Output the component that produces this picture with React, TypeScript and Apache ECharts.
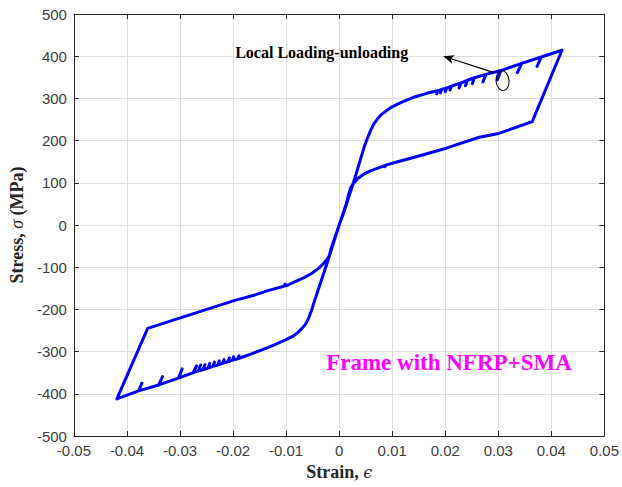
import React, { useEffect, useRef } from "react";
import * as echarts from "echarts";

// Axis setup
const xMin = -0.05;
const xMax = 0.05;
const xStep = 0.01;
const yMin = -500;
const yMax = 500;
const yStep = 100;

// Path pieces of the hysteresis curve: [strain, stress (MPa)]
const loadingPositive: [number, number][] = [
  [0, 0], [0.001, 34], [0.0028, 105], [0.0047, 184], [0.0053, 205], [0.0059, 223],
  [0.0065, 239], [0.0072, 251], [0.0079, 261], [0.0088, 270], [0.0097, 278],
  [0.0118, 291], [0.0139, 302], [0.0165, 312],
  [0.0186, 318], [0.0184, 311], [0.0186, 318],
  [0.0193, 321], [0.0191, 313], [0.0193, 321],
  [0.0203, 325], [0.0200, 316], [0.0203, 325],
  [0.0212, 329], [0.0209, 320], [0.0212, 329],
  [0.0230, 337], [0.0226, 325], [0.0230, 337],
  [0.0242, 343], [0.0238, 330], [0.0242, 343],
  [0.0255, 349], [0.0251, 335], [0.0255, 349],
  [0.0277, 357], [0.0271, 339], [0.0277, 357],
  [0.0305, 366], [0.0298, 344], [0.0305, 366],
  [0.0344, 383], [0.0336, 361], [0.0344, 383],
  [0.0381, 398], [0.0373, 376], [0.0381, 398],
  [0.0420, 414],
];

const unloadingPositive: [number, number][] = [
  [0.0364, 245], [0.0301, 217], [0.0264, 208], [0.0202, 182], [0.0140, 160],
  [0.0105, 148], [0.0088, 142], [0.0086, 138], [0.0088, 142], [0.0078, 137],
  [0.0060, 129], [0.0047, 121], [0.0035, 110], [0.0027, 98], [0.0022, 89],
  [0.0018, 74], [0.0014, 52], [0, 0],
];

const loadingNegative: [number, number][] = [
  [-0.0015, -55], [-0.002, -80], [-0.003, -118], [-0.004, -155], [-0.0046, -178],
  [-0.0052, -202], [-0.0058, -222], [-0.0064, -236], [-0.007, -245], [-0.0078, -255],
  [-0.0088, -264], [-0.0102, -273], [-0.013, -288], [-0.0164, -305],
  [-0.0191, -317], [-0.0189, -310], [-0.0191, -317],
  [-0.0201, -320], [-0.0199, -312], [-0.0201, -320],
  [-0.0210, -324], [-0.0207, -315], [-0.0210, -324],
  [-0.0220, -328], [-0.0217, -319], [-0.0220, -328],
  [-0.0229, -332], [-0.0226, -322], [-0.0229, -332],
  [-0.0238, -335], [-0.0235, -325], [-0.0238, -335],
  [-0.0247, -339], [-0.0244, -328], [-0.0247, -339],
  [-0.0257, -343], [-0.0253, -331], [-0.0257, -343],
  [-0.0266, -346], [-0.0261, -332], [-0.0266, -346],
  [-0.0275, -350], [-0.0269, -334], [-0.0275, -350],
  [-0.0303, -363], [-0.0296, -341], [-0.0303, -363],
  [-0.0340, -379], [-0.0333, -359], [-0.0340, -379],
  [-0.0378, -393], [-0.0372, -375], [-0.0378, -393],
  [-0.0419, -412],
];

const unloadingNegative: [number, number][] = [
  [-0.0361, -245], [-0.0257, -203], [-0.0195, -178], [-0.0162, -167], [-0.0133, -155],
  [-0.0104, -145], [-0.0102, -140], [-0.0100, -144], [-0.0084, -135], [-0.0065, -124],
  [-0.0052, -115], [-0.0040, -104], [-0.003, -92], [-0.0023, -82], [-0.0018, -72],
  [-0.001, -40], [0, 0],
];

// Annotation anchors (data coordinates)
const noteText = "Local Loading-unloading";
const noteTextPos: [number, number] = [-0.0033, 408];
const arrowFrom: [number, number] = [0.0292, 361];
const arrowTo: [number, number] = [0.0196, 400];
const ellipseCenter: [number, number] = [0.0308, 342];
const legendText = "Frame with NFRP+SMA";
const legendPos: [number, number] = [0.0207, -327];

const fmtX = (v: number) => String(Math.round(v * 100) / 100);

export default function App() {
  const ref = useRef<HTMLDivElement>(null);
  useEffect(() => {
    if (!ref.current) return;
    const chart = echarts.init(ref.current, undefined, { renderer: "svg" });
    const data = [
      ...loadingPositive,
      ...unloadingPositive,
      ...loadingNegative,
      ...unloadingNegative,
    ];
    const axisColor = "#262626";
    const labelColor = "#404040";
    chart.setOption({
      animation: false,
      backgroundColor: "#ffffff",
      grid: { left: 69, right: 16, top: 14, bottom: 51 },
      xAxis: [
        {
          type: "value",
          min: xMin,
          max: xMax,
          interval: xStep,
          position: "bottom",
          axisLine: { show: true, onZero: false, lineStyle: { color: axisColor, width: 1 } },
          axisTick: { show: true, inside: true, length: 5, lineStyle: { color: axisColor } },
          axisLabel: {
            formatter: fmtX,
            color: labelColor,
            fontSize: 15,
            fontFamily: "Liberation Sans, Arial, sans-serif",
            margin: 7,
          },
          splitLine: { show: true, lineStyle: { color: "#e0e0e0", width: 1 } },
          name: "{b|Strain, }{i|ϵ}",
          nameLocation: "middle",
          nameGap: 27,
          nameTextStyle: {
            rich: {
              b: { fontFamily: "Liberation Serif, Times New Roman, serif", fontWeight: "bold", fontSize: 18, color: "#262626" },
              i: { fontFamily: "DejaVu Serif, Liberation Serif, serif", fontStyle: "italic", fontSize: 16, color: "#262626" },
            },
          },
        },
        {
          type: "value",
          min: xMin,
          max: xMax,
          interval: xStep,
          position: "top",
          axisLine: { show: true, onZero: false, lineStyle: { color: axisColor, width: 1 } },
          axisTick: { show: true, inside: true, length: 5, lineStyle: { color: axisColor } },
          axisLabel: { show: false },
          splitLine: { show: false },
        },
      ],
      yAxis: [
        {
          type: "value",
          min: yMin,
          max: yMax,
          interval: yStep,
          position: "left",
          axisLine: { show: true, onZero: false, lineStyle: { color: axisColor, width: 1 } },
          axisTick: { show: true, inside: true, length: 5, lineStyle: { color: axisColor } },
          axisLabel: {
            color: labelColor,
            fontSize: 15,
            fontFamily: "Liberation Sans, Arial, sans-serif",
            margin: 7,
          },
          splitLine: { show: true, lineStyle: { color: "#e0e0e0", width: 1 } },
          name: "{b|Stress, }{i|σ}{b| (MPa)}",
          nameLocation: "middle",
          nameRotate: 90,
          nameGap: 42,
          nameTextStyle: {
            rich: {
              b: { fontFamily: "Liberation Serif, Times New Roman, serif", fontWeight: "bold", fontSize: 18, color: "#262626" },
              i: { fontFamily: "Liberation Serif, Times New Roman, serif", fontStyle: "italic", fontSize: 18, color: "#262626" },
            },
          },
        },
        {
          type: "value",
          min: yMin,
          max: yMax,
          interval: yStep,
          position: "right",
          axisLine: { show: true, onZero: false, lineStyle: { color: axisColor, width: 1 } },
          axisTick: { show: true, inside: true, length: 5, lineStyle: { color: axisColor } },
          axisLabel: { show: false },
          splitLine: { show: false },
        },
      ],
      series: [
        {
          type: "line",
          xAxisIndex: 0,
          yAxisIndex: 0,
          data,
          showSymbol: false,
          symbol: "none",
          smooth: false,
          lineStyle: { color: "#0000ff", width: 3, join: "round", cap: "round" },
          z: 3,
        },
      ],
    });

    const px = (p: [number, number]) =>
      chart.convertToPixel({ xAxisIndex: 0, yAxisIndex: 0 }, p) as number[];
    const a0 = px(arrowFrom);
    const a1 = px(arrowTo);
    const dx = a1[0] - a0[0];
    const dy = a1[1] - a0[1];
    const len = Math.sqrt(dx * dx + dy * dy);
    const ux = dx / len;
    const uy = dy / len;
    const nx = -uy;
    const ny = ux;
    const L = 11;
    const W = 4.5;
    const head = [
      [a1[0], a1[1]],
      [a1[0] - ux * L + nx * W, a1[1] - uy * L + ny * W],
      [a1[0] - ux * (L - 3), a1[1] - uy * (L - 3)],
      [a1[0] - ux * L - nx * W, a1[1] - uy * L - ny * W],
    ];
    const ec = px(ellipseCenter);
    const tp = px(noteTextPos);
    const lp = px(legendPos);

    chart.setOption({
      graphic: [
        {
          type: "line",
          shape: { x1: a0[0], y1: a0[1], x2: a1[0] - ux * 6, y2: a1[1] - uy * 6 },
          style: { stroke: "#000000", lineWidth: 1.2 },
          z: 10,
        },
        {
          type: "polygon",
          shape: { points: head },
          style: { fill: "#000000" },
          z: 10,
        },
        {
          type: "ellipse",
          x: ec[0],
          y: ec[1],
          rotation: 0.1,
          shape: { cx: 0, cy: 0, rx: 6.5, ry: 10 },
          style: { fill: "none", stroke: "#000000", lineWidth: 1 },
          z: 10,
        },
        {
          type: "text",
          x: tp[0],
          y: tp[1],
          style: {
            text: noteText,
            fontFamily: "Liberation Serif, Times New Roman, serif",
            fontWeight: "bold",
            fontSize: 16,
            fill: "#000000",
            align: "center",
            verticalAlign: "middle",
          },
          z: 10,
        },
        {
          type: "text",
          x: lp[0],
          y: lp[1],
          style: {
            text: legendText,
            fontFamily: "Liberation Serif, Times New Roman, serif",
            fontWeight: "bold",
            fontSize: 23,
            fill: "#ff00ff",
            align: "center",
            verticalAlign: "middle",
          },
          z: 10,
        },
      ],
    });

    return () => chart.dispose();
  }, []);
  return <div ref={ref} style={{ width: 622, height: 487, position: "absolute", left: 0, top: 0 }} />;
}
